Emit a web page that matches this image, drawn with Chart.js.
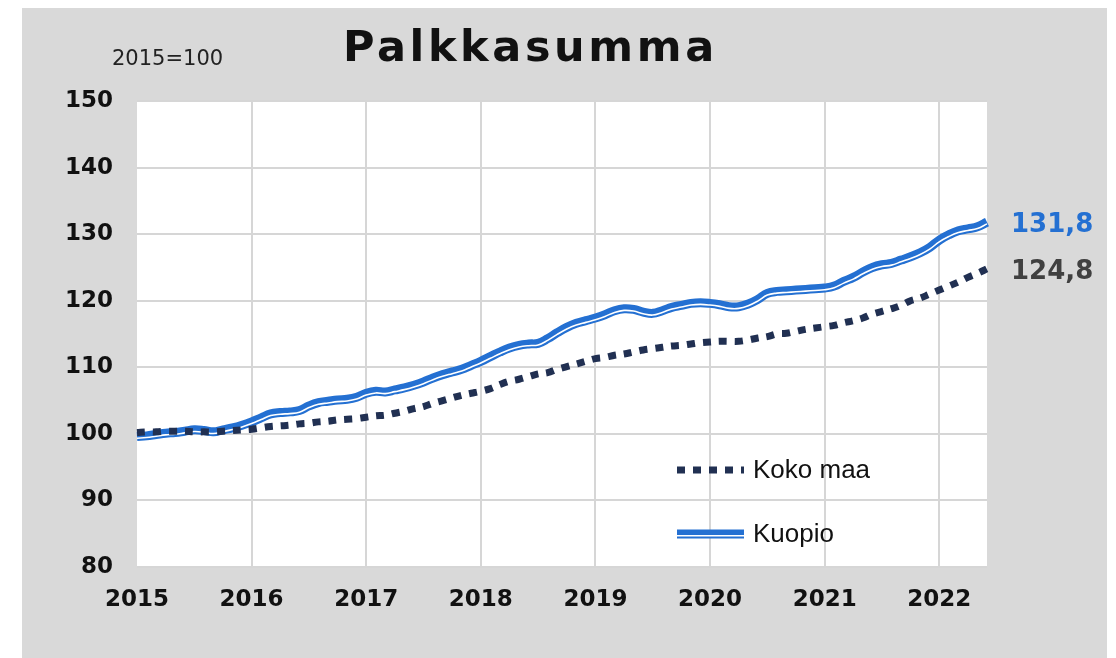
<!DOCTYPE html>
<html>
<head>
<meta charset="utf-8">
<title>Palkkasumma</title>
<script src="https://cdn.jsdelivr.net/npm/chart.js@4.4.1/dist/chart.umd.min.js"></script>
<style>
  html, body { margin: 0; padding: 0; background: #fff; }
  #wrap { position: relative; width: 1116px; height: 658px; }
</style>
</head>
<body>
<div id="wrap"><canvas id="c" width="1116" height="658"></canvas></div>
<script>
/* Palkkasumma, 2015=100 — monthly, Jan 2015 .. Jun 2022 */
const years = ['2015', '2016', '2017', '2018', '2019', '2020', '2021', '2022'];
const monthsInLastYear = 6;

const kokoMaa = [
  100.2, 100.3, 100.3, 100.4, 100.4, 100.4, 100.3, 100.3, 100.3, 100.4, 100.5, 100.6,
  100.7, 100.9, 101.1, 101.2, 101.3, 101.5, 101.6, 101.8, 101.9, 102.1, 102.2, 102.3,
  102.5, 102.7, 102.8, 103.1, 103.4, 103.8, 104.1, 104.6, 105.0, 105.4, 105.8, 106.1,
  106.4, 106.8, 107.4, 107.9, 108.2, 108.6, 109.0, 109.2, 109.7, 110.1, 110.5, 110.9,
  111.3, 111.5, 111.8, 112.0, 112.3, 112.6, 112.8, 113.0, 113.2, 113.3, 113.5, 113.7,
  113.8, 113.9, 113.9, 113.9, 114.1, 114.4, 114.6, 115.0, 115.1, 115.4, 115.7, 115.9,
  116.1, 116.3, 116.7, 117.0, 117.4, 118.0, 118.4, 118.8, 119.3, 120.0, 120.4, 121.0,
  121.6, 122.2, 122.8, 123.5, 124.1, 124.8
];
const kuopio = [
  99.6, 99.7, 99.9, 100.1, 100.2, 100.4, 100.6, 100.5, 100.3, 100.6, 100.9, 101.3,
  101.8, 102.4, 103.0, 103.2, 103.3, 103.5, 104.2, 104.7, 104.9, 105.1, 105.2, 105.5,
  106.1, 106.4, 106.3, 106.6, 106.9, 107.3, 107.8, 108.4, 108.9, 109.3, 109.7, 110.3,
  110.9, 111.6, 112.3, 112.9, 113.3, 113.5, 113.6, 114.3, 115.2, 116.0, 116.6, 117.0,
  117.4, 117.9, 118.5, 118.8, 118.7, 118.3, 118.1, 118.5, 119.0, 119.3, 119.6, 119.7,
  119.6, 119.4, 119.1, 119.1, 119.5, 120.2, 121.1, 121.4, 121.5, 121.6, 121.7, 121.8,
  121.9, 122.2, 122.9, 123.5, 124.3, 125.0, 125.4, 125.6, 126.1, 126.6, 127.2, 128.0,
  129.1, 129.9, 130.5, 130.8, 131.1, 131.8
];
const seriesNames = ['Koko maa', 'Kuopio'];
const lastLabels = ['124,8', '131,8'];
const yTicks = [80, 90, 100, 110, 120, 130, 140, 150];

const NAVY = '#213052';
const BLUE = '#2470d2';
const GRID = '#d6d6d6';

// month categories built from the year list
const months = [];
years.forEach((y, i) => {
  const n = i === years.length - 1 ? monthsInLastYear : 12;
  for (let m = 1; m <= n; m++) months.push(y + '-' + String(m).padStart(2, '0'));
});

Chart.defaults.font.family = "'DejaVu Sans', Verdana, sans-serif";
Chart.defaults.color = '#111';

// white gap of the Kuopio double line is shifted down a bit
const shiftPlugin = {
  id: 'shiftLine',
  beforeDatasetDraw(chart, args) {
    const ds = chart.data.datasets[args.index];
    if (ds.shiftY) { chart.ctx.save(); chart.ctx.translate(0, ds.shiftY); }
  },
  afterDatasetDraw(chart, args) {
    const ds = chart.data.datasets[args.index];
    if (ds.shiftY) chart.ctx.restore();
  }
};

const decorPlugin = {
  id: 'decor',
  beforeDraw(chart) {
    const { ctx, chartArea: a } = chart;
    ctx.save();
    ctx.fillStyle = '#fff';
    ctx.fillRect(0, 0, chart.width, chart.height);
    ctx.fillStyle = '#d9d9d9';
    ctx.fillRect(22, 8, 1085, 650);
    ctx.fillStyle = '#fff';
    ctx.fillRect(a.left, a.top, a.right - a.left, a.bottom - a.top);
    ctx.restore();
  },
  afterDraw(chart) {
    const { ctx } = chart;
    const ys = chart.scales.y;
    ctx.save();
    // title
    ctx.fillStyle = '#111';
    ctx.textBaseline = 'alphabetic';
    ctx.textAlign = 'left';
    ctx.font = "bold 43px 'DejaVu Sans'";
    ctx.letterSpacing = '3.6px';
    ctx.fillText('Palkkasumma', 343, 61);
    ctx.letterSpacing = '0px';
    ctx.font = "21px 'DejaVu Sans'";
    ctx.fillStyle = '#222';
    ctx.fillText('2015=100', 112, 65);

    // end value labels
    ctx.font = "bold 26px 'DejaVu Sans'";
    ctx.textBaseline = 'middle';
    ctx.fillStyle = BLUE;
    ctx.fillText(lastLabels[1], 1011, ys.getPixelForValue(kuopio[kuopio.length - 1]) + 3);
    ctx.fillStyle = '#404040';
    ctx.fillText(lastLabels[0], 1011, ys.getPixelForValue(kokoMaa[kokoMaa.length - 1]) + 3);

    // legend
    const lx0 = 677, lx1 = 744;
    ctx.lineCap = 'butt';
    ctx.strokeStyle = NAVY;
    ctx.lineWidth = 7;
    ctx.setLineDash([8, 8]);
    ctx.beginPath(); ctx.moveTo(lx0, 470); ctx.lineTo(lx1, 470); ctx.stroke();
    ctx.setLineDash([]);
    ctx.strokeStyle = BLUE;
    ctx.lineWidth = 9;
    ctx.beginPath(); ctx.moveTo(lx0, 534); ctx.lineTo(lx1, 534); ctx.stroke();
    ctx.strokeStyle = '#fff';
    ctx.lineWidth = 1.6;
    ctx.beginPath(); ctx.moveTo(lx0, 535.7); ctx.lineTo(lx1, 535.7); ctx.stroke();

    ctx.font = "26px 'Liberation Sans', Arial, sans-serif";
    ctx.fillStyle = '#111';
    ctx.fillText(seriesNames[0], 753, 471);
    ctx.fillText(seriesNames[1], 753, 535);
    ctx.restore();
  }
};

new Chart(document.getElementById('c').getContext('2d'), {
  type: 'line',
  data: {
    labels: months,
    datasets: [
      { label: seriesNames[0], data: kokoMaa, borderColor: NAVY, borderWidth: 7,
        borderDash: [8, 8], borderCapStyle: 'butt', pointRadius: 0, tension: 0.4 },
      { label: seriesNames[1] + ' gap', data: kuopio, borderColor: '#fff', borderWidth: 1.6,
        pointRadius: 0, tension: 0.4, shiftY: 1.7 },
      { label: seriesNames[1], data: kuopio, borderColor: BLUE, borderWidth: 9,
        pointRadius: 0, tension: 0.4 },
    ],
  },
  options: {
    responsive: false, animation: false, devicePixelRatio: 1,
    layout: { padding: { left: 22, right: 129, top: 101, bottom: 0 } },
    plugins: { legend: { display: false }, tooltip: { enabled: false } },
    scales: {
      x: {
        type: 'category',
        offset: false,
        afterFit: s => { s.height = 91; },
        border: { display: false },
        grid: {
          drawTicks: false, lineWidth: 2,
          color: c => (c.index > 0 && c.index % 12 === 0) ? GRID : 'rgba(0,0,0,0)',
        },
        ticks: {
          autoSkip: false, maxRotation: 0, padding: 19,
          font: { size: 23, weight: 'bold' }, color: '#111',
          callback: (v, i) => i % 12 === 0 ? months[i].slice(0, 4) : '',
        },
      },
      y: {
        min: yTicks[0], max: yTicks[yTicks.length - 1],
        afterFit: s => { s.width = 115; },
        afterBuildTicks: s => { s.ticks = yTicks.map(v => ({ value: v })); },
        border: { display: false },
        grid: { drawTicks: false, color: GRID, lineWidth: 2 },
        ticks: { padding: 24, font: { size: 23, weight: 'bold' }, color: '#111' },
      },
    },
  },
  plugins: [shiftPlugin, decorPlugin],
});
</script>
</body>
</html>
